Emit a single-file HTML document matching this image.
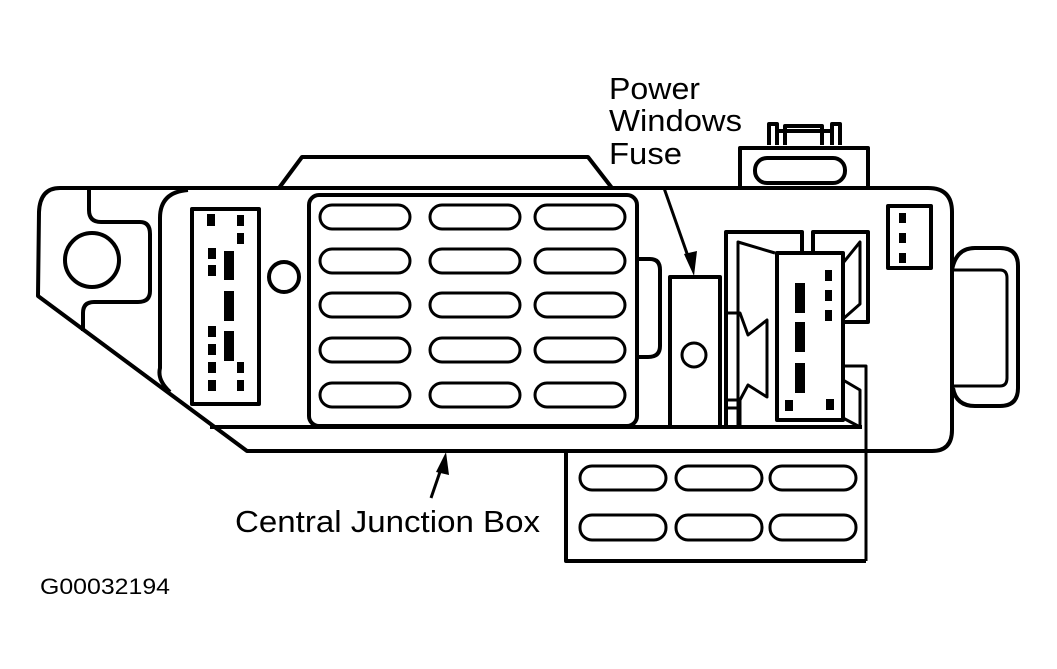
<!DOCTYPE html>
<html><head><meta charset="utf-8"><style>
html,body{margin:0;padding:0;background:#fff;}
svg{display:block;}
text{font-family:"Liberation Sans",sans-serif;fill:#000;}
</style></head><body>
<svg width="1057" height="669" viewBox="0 0 1057 669" xmlns="http://www.w3.org/2000/svg">
<g fill="none" stroke="#000" stroke-width="4" stroke-linejoin="round">
<!-- top trapezoid -->
<path d="M279,188 L302,157 L588,157 L612,188"/>
<!-- outer body -->
<path d="M566,451 L932,451 Q952,451 952,430 L952,212 Q952,188 928,188 L60,188 Q40,188 39,212 L38,296 L247,451 L566,451"/>
<!-- left tab -->
<path d="M89,190 L89,210 Q89,222 101,222 L140,222 Q150,222 150,234 L150,291 Q150,302 138,302 L94,302 Q83,302 83,313 L83,331"/>
<circle cx="92" cy="260" r="27"/>
<!-- inner panel -->
<path d="M188,190 Q160,192 160,218 L160,368 Q157,380 170,392 M210,427 L862,427"/>
<!-- left connector -->
<rect x="192" y="209" width="67" height="195"/>
<circle cx="284" cy="277" r="15"/>
<!-- fuse grid -->
<rect x="309" y="195" width="328" height="231" rx="10"/>
<g stroke-width="3">
<rect x="320" y="205" width="90" height="24" rx="12"/><rect x="430" y="205" width="90" height="24" rx="12"/><rect x="535" y="205" width="90" height="24" rx="12"/>
<rect x="320" y="249" width="90" height="24" rx="12"/><rect x="430" y="249" width="90" height="24" rx="12"/><rect x="535" y="249" width="90" height="24" rx="12"/>
<rect x="320" y="293" width="90" height="24" rx="12"/><rect x="430" y="293" width="90" height="24" rx="12"/><rect x="535" y="293" width="90" height="24" rx="12"/>
<rect x="320" y="338" width="90" height="24" rx="12"/><rect x="430" y="338" width="90" height="24" rx="12"/><rect x="535" y="338" width="90" height="24" rx="12"/>
<rect x="320" y="383" width="90" height="24" rx="12"/><rect x="430" y="383" width="90" height="24" rx="12"/><rect x="535" y="383" width="90" height="24" rx="12"/>
</g>
<path d="M637,259 L650,259 Q660,259 660,270 L660,346 Q660,357 648,357 L637,357"/>
<!-- power windows fuse -->
<path d="M670,427 L670,277 L720,277 L720,427"/>
<circle cx="694" cy="355" r="12" stroke-width="3"/>
<!-- top connector -->
<path d="M740,188 L740,148 L868,148 L868,188"/>
<rect x="755" y="158" width="90" height="25" rx="12"/>
<path d="M769,145 L769,124 L777,124 L777,145 M832,145 L832,124 L840,124 L840,145 M785,145 L785,126 L822,126 L822,145 M777,131 L832,131"/>
<!-- small right rect -->
<rect x="888" y="206" width="43" height="62"/>
<!-- right handle -->
<path d="M952,270 Q956,248 975,248 L1000,248 Q1018,248 1018,266 L1018,388 Q1018,406 1000,406 L975,406 Q956,406 953,388"/>
<path d="M952,270 L1000,270 Q1007,270 1007,278 L1007,378 Q1007,386 1000,386 L952,386" stroke-width="3"/>
<!-- middle connectors -->
<path d="M726,427 L726,232 L802,232 L802,253 M813,253 L813,232 L868,232 L868,322 L843,322"/>
<path d="M738,427 L738,242 L775,253 M843,263 L860,242 L860,304 L843,319" stroke-width="3"/>
<path d="M726,313 L740,313 L748,335 L767,320 L767,397 L748,385 L740,400 L726,400 M740,400 L740,427 M726,408 L740,408" stroke-width="3"/>
<rect x="777" y="253" width="66" height="167"/>
<path d="M843,366 L866,366 L866,561 M843,380 L860,390 L860,427 L843,418" stroke-width="3"/>
<!-- lower box -->
<path d="M566,451 L566,561 L866,561"/>
<g stroke-width="3">
<rect x="580" y="466" width="86" height="24" rx="12"/><rect x="676" y="466" width="86" height="24" rx="12"/><rect x="770" y="466" width="86" height="24" rx="12"/>
<rect x="580" y="515" width="86" height="25" rx="12"/><rect x="676" y="515" width="86" height="25" rx="12"/><rect x="770" y="515" width="86" height="25" rx="12"/>
</g>
<!-- arrows -->
<line x1="664" y1="188" x2="690" y2="262" stroke-width="3"/>
<line x1="431" y1="498" x2="442" y2="466" stroke-width="3"/>
</g>
<g fill="#000">
<polygon points="694,276 684,254 697,251"/>
<polygon points="446,452 436,472 449,475"/>
<rect x="207" y="214" width="8" height="12"/><rect x="237" y="215" width="7" height="11"/><rect x="237" y="233" width="7" height="11"/>
<rect x="208" y="248" width="8" height="11"/><rect x="208" y="265" width="8" height="11"/><rect x="224" y="251" width="10" height="29"/>
<rect x="224" y="291" width="10" height="30"/>
<rect x="208" y="326" width="8" height="11"/><rect x="208" y="344" width="8" height="11"/><rect x="224" y="331" width="10" height="30"/>
<rect x="208" y="362" width="8" height="11"/><rect x="237" y="362" width="7" height="11"/>
<rect x="208" y="380" width="8" height="11"/><rect x="237" y="380" width="7" height="11"/>
<rect x="899" y="213" width="7" height="10"/><rect x="899" y="233" width="7" height="10"/><rect x="899" y="253" width="7" height="10"/>
<rect x="795" y="283" width="10" height="30"/><rect x="795" y="322" width="10" height="30"/><rect x="795" y="363" width="10" height="30"/>
<rect x="825" y="270" width="7" height="11"/><rect x="825" y="290" width="7" height="11"/><rect x="825" y="310" width="7" height="11"/>
<rect x="785" y="400" width="8" height="11"/><rect x="826" y="399" width="8" height="11"/>
</g>
<text x="609" y="99" font-size="31" textLength="91" lengthAdjust="spacingAndGlyphs">Power</text>
<text x="609" y="131" font-size="31" textLength="133" lengthAdjust="spacingAndGlyphs">Windows</text>
<text x="609" y="164" font-size="31" textLength="73" lengthAdjust="spacingAndGlyphs">Fuse</text>
<text x="235" y="532" font-size="31" textLength="305" lengthAdjust="spacingAndGlyphs">Central Junction Box</text>
<text x="40" y="594" font-size="22" textLength="130" lengthAdjust="spacingAndGlyphs">G00032194</text>
</svg>
</body></html>
